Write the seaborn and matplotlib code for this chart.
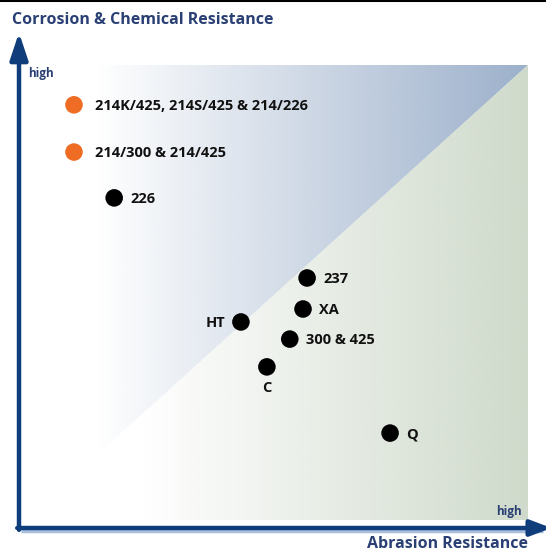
import numpy as np
import pandas as pd
import matplotlib
matplotlib.use("Agg")
import matplotlib.pyplot as plt
from matplotlib.patches import Polygon
import seaborn as sns

# ---- data (0..100 scale) ----
labels = ["214K/425, 214S/425 & 214/226", "214/300 & 214/425", "226", "237",
          "XA", "HT", "300 & 425", "C", "Q"]
abrasion = [10.8, 10.8, 18.7, 56.6, 55.8, 43.6, 53.2, 48.7, 72.9]
corrosion = [91.4, 81.2, 71.3, 54.0, 47.3, 44.5, 40.8, 34.8, 20.5]
group = ["alloy", "alloy", "std", "std", "std", "std", "std", "std", "std"]
label_side = ["right", "right", "right", "right", "right", "left", "right", "below", "right"]

df = pd.DataFrame({"label": labels, "abrasion": abrasion,
                   "corrosion": corrosion, "group": group, "side": label_side})

sns.set_theme(style="white")
plt.rcParams["font.family"] = ["Open Sans", "DejaVu Sans"]

W, H = 546, 551
fig = plt.figure(figsize=(W / 100, H / 100), dpi=100)
ox, oy = 19, 528          # origin pixel
ax_w, ax_h = 509, 463
ax = fig.add_axes([ox / W, (H - oy) / H, ax_w / W, ax_h / H])
ax.set_xlim(0, 100)
ax.set_ylim(0, 100)
ax.axis("off")

# ---- gradient triangles ----
x0, x1 = 1.2, 100
y0, y1 = 1.7, 100
n = 400
xs = np.linspace(x0, x1, n)

def grad(color, start, end):
    c = np.array(matplotlib.colors.to_rgb(color))
    t = np.clip((xs - start) / (end - start), 0, 1)
    img = np.ones((2, n, 4))
    img[..., :3] = c
    img[..., 3] = t[None, :]
    return img

blue_img = grad("#9cb0cb", 15, 100)
green_img = grad("#cfdacb", 24, 100)

tri_blue = Polygon([(x0, y0), (x0, y1), (x1, y1)], closed=True, transform=ax.transData)
tri_green = Polygon([(x0, y0), (x1, y0), (x1, y1)], closed=True, transform=ax.transData)
im1 = ax.imshow(blue_img, extent=[x0, x1, y0, y1], aspect="auto", zorder=0,
                interpolation="bilinear")
im1.set_clip_path(tri_blue)
im2 = ax.imshow(green_img, extent=[x0, x1, y0, y1], aspect="auto", zorder=0,
                interpolation="bilinear")
im2.set_clip_path(tri_green)
ax.set_xlim(0, 100)
ax.set_ylim(0, 100)

# ---- axes arrows ----
navy = "#0f3c7a"
ax.plot([0.35, 103], [-0.55, -0.55], color="#a8bedb", lw=2.5, clip_on=False,
        solid_capstyle="butt", zorder=1)
ax.annotate("", xy=(0, 107.0), xytext=(0, -0.4), xycoords="data",
            arrowprops=dict(arrowstyle="-|>,head_length=1.35,head_width=0.45",
                            color=navy, lw=3.2, shrinkA=0, shrinkB=0),
            annotation_clip=False, zorder=3)
ax.annotate("", xy=(104.6, 0), xytext=(-0.35, 0), xycoords="data",
            arrowprops=dict(arrowstyle="-|>,head_length=1.05,head_width=0.4",
                            color=navy, lw=3.2, shrinkA=0, shrinkB=0),
            annotation_clip=False, zorder=3)

# ---- points ----
sns.scatterplot(data=df, x="abrasion", y="corrosion", hue="group",
                palette={"alloy": "#ee6c23", "std": "#000000"},
                s=160, linewidth=0, legend=False, ax=ax, zorder=4, clip_on=False)

for _, r in df.iterrows():
    gap = 21 if r["group"] == "alloy" else 16
    if r["side"] == "right":
        ax.annotate(r["label"], (r["abrasion"], r["corrosion"]), xytext=(gap, -1),
                    textcoords="offset pixels", ha="left", va="center",
                    fontsize=10.5, fontweight="bold", color="#111111")
    elif r["side"] == "left":
        ax.annotate(r["label"], (r["abrasion"], r["corrosion"]), xytext=(-gap, -1),
                    textcoords="offset pixels", ha="right", va="center",
                    fontsize=10.5, fontweight="bold", color="#111111")
    else:
        ax.annotate(r["label"], (r["abrasion"], r["corrosion"]), xytext=(0, -21),
                    textcoords="offset pixels", ha="center", va="center",
                    fontsize=10.5, fontweight="bold", color="#111111")

# ---- text ----
title_c = "#2a4074"
fig.text(12 / W, 1 - 20 / H, "Corrosion & Chemical Resistance", ha="left", va="center",
         fontsize=11.5, fontweight="bold", color=title_c)
fig.text(528 / W, 1 - 544 / H, "Abrasion Resistance", ha="right", va="center",
         fontsize=11.5, fontweight="bold", color=title_c)
fig.text(28 / W, 1 - 73 / H, "high", ha="left", va="center",
         fontsize=8.5, fontweight="bold", color=title_c)
fig.text(522 / W, 1 - 512 / H, "high", ha="right", va="center",
         fontsize=8.5, fontweight="bold", color=title_c)

# top rule
fig.add_artist(plt.Line2D([0, 1], [1 - 0.8 / H, 1 - 0.8 / H], color="black", lw=1.5,
                          transform=fig.transFigure))

fig.savefig("out.png", dpi=100)
